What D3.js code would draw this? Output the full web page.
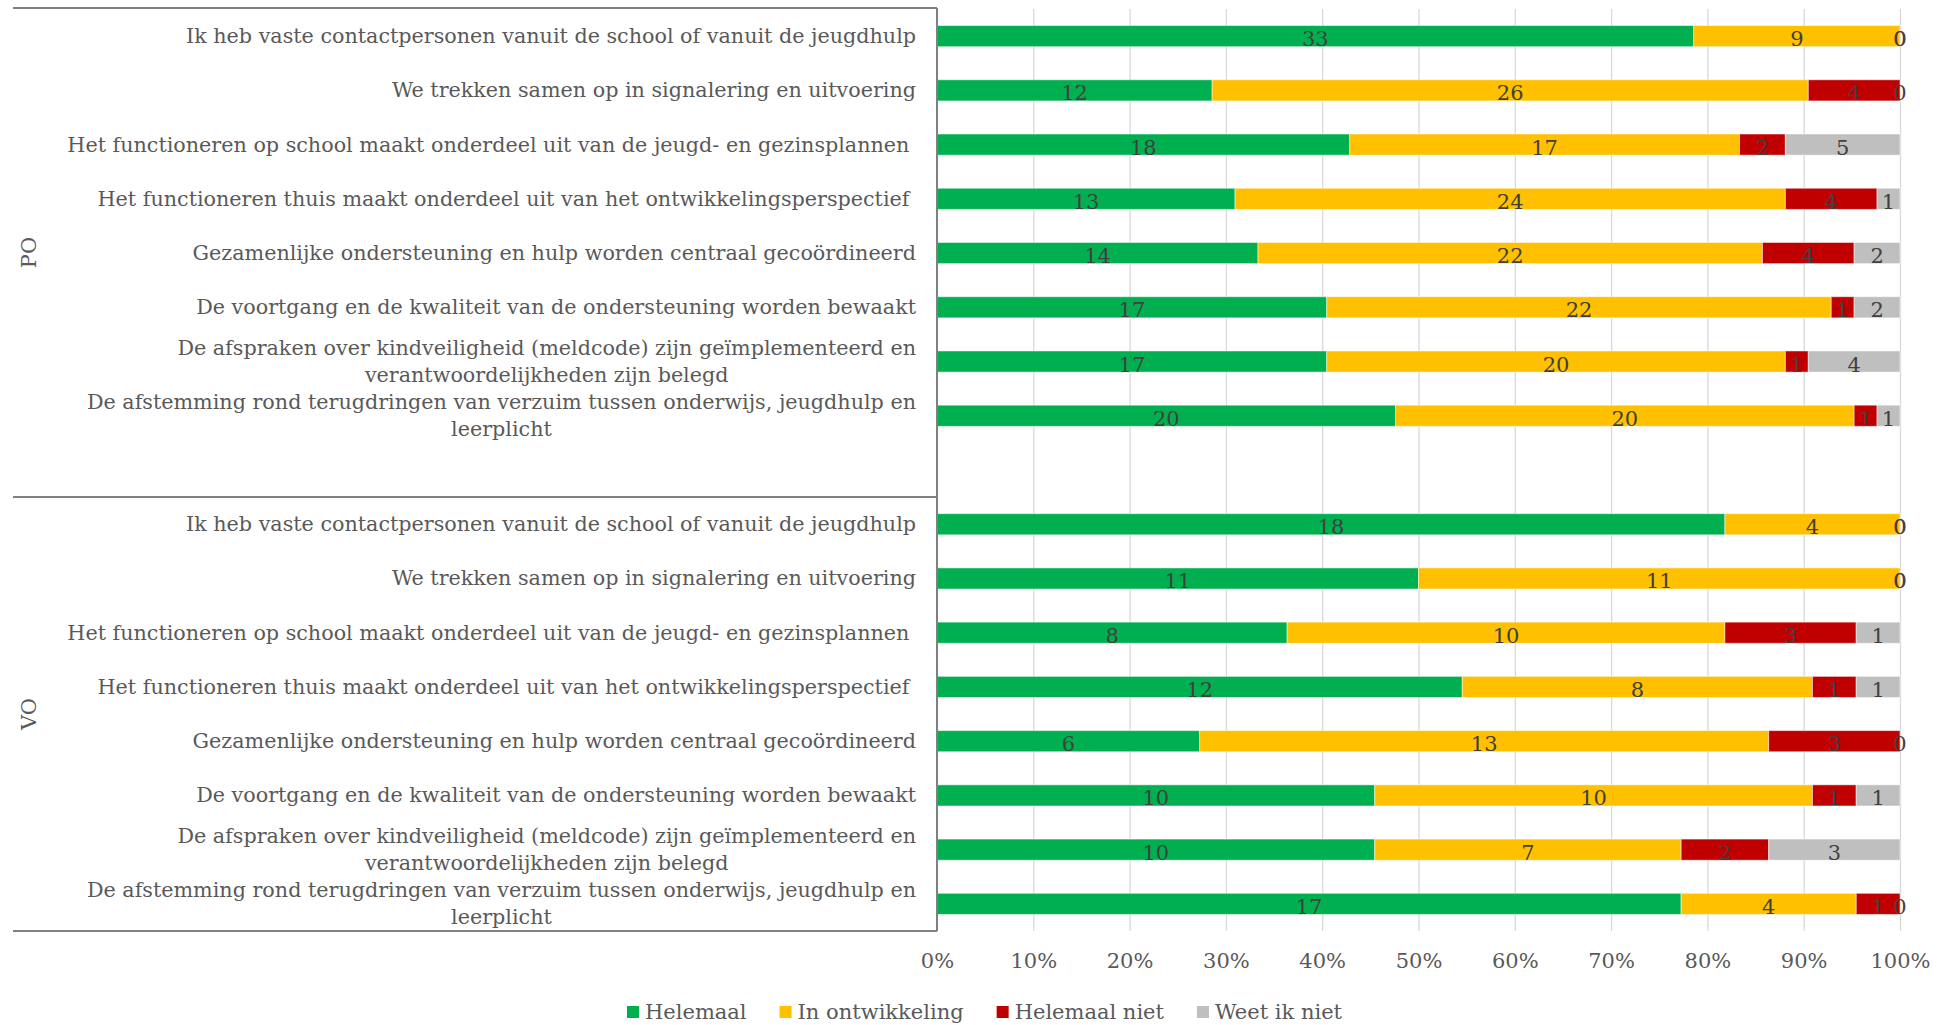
<!DOCTYPE html>
<html><head>
<meta charset="utf-8">
<script src="https://d3js.org/d3.v7.min.js"></script>
<style>
  body { margin: 0; background: #fff; }
  svg text { font-family: Georgia, "DejaVu Serif", serif; fill: #595959; }
  .gridlines line { stroke: #d9d9d9; stroke-width: 1.3; }
  .gridlines .domain { stroke: none; }
  .x.axis .domain { stroke: none; }
  .x.axis text { font-size: 21px; fill: #595959; font-family: Georgia, "DejaVu Serif", serif; }
  .cat { font-size: 20.7px; white-space: pre; }
  .leg { font-size: 21px; }
  .val { font-size: 21px; fill: #404040; }
</style>
</head>
<body>
<svg id="chart" width="1952" height="1025"></svg>
<script>
// categories (same for both groups); "|" marks a line break
const categories = [
  "Ik heb vaste contactpersonen vanuit de school of vanuit de jeugdhulp",
  "We trekken samen op in signalering en uitvoering",
  "Het functioneren op school maakt onderdeel uit van de jeugd- en gezinsplannen ",
  "Het functioneren thuis maakt onderdeel uit van het ontwikkelingsperspectief ",
  "Gezamenlijke ondersteuning en hulp worden centraal gecoördineerd",
  "De voortgang en de kwaliteit van de ondersteuning worden bewaakt",
  "De afspraken over kindveiligheid (meldcode) zijn geïmplementeerd en|verantwoordelijkheden zijn belegd",
  "De afstemming rond terugdringen van verzuim tussen onderwijs, jeugdhulp en|leerplicht"
];
const groups = ["PO", "VO"];
const seriesNames = ["Helemaal", "In ontwikkeling", "Helemaal niet", "Weet ik niet"];
const seriesColors = ["#00b050", "#ffc000", "#c00000", "#bfbfbf"];

// counts per series, PO
const poHelemaal = [33, 12, 18, 13, 14, 17, 17, 20];
const poOntwikkeling = [9, 26, 17, 24, 22, 22, 20, 20];
const poNiet = [0, 4, 2, 4, 4, 1, 1, 1];
const poWeetNiet = [0, 0, 5, 1, 2, 2, 4, 1];
// counts per series, VO
const voHelemaal = [18, 11, 8, 12, 6, 10, 10, 17];
const voOntwikkeling = [4, 11, 10, 8, 13, 10, 7, 4];
const voNiet = [0, 0, 3, 1, 3, 1, 2, 1];
const voWeetNiet = [0, 0, 1, 1, 0, 1, 3, 0];

const tickValues = [0, 0.1, 0.2, 0.3, 0.4, 0.5, 0.6, 0.7, 0.8, 0.9, 1];

// build rows: PO items, an empty slot, VO items
let rows = [];
const poSeries = [poHelemaal, poOntwikkeling, poNiet, poWeetNiet];
const voSeries = [voHelemaal, voOntwikkeling, voNiet, voWeetNiet];
categories.forEach((c, i) => rows.push({key: "PO" + i, label: c, vals: poSeries.map(s => s[i])}));
rows.push({key: "gap", label: "", vals: null});
categories.forEach((c, i) => rows.push({key: "VO" + i, label: c, vals: voSeries.map(s => s[i])}));

let svg = d3.select("#chart");
let margin = {top: 9, left: 937, right: 1900, bottom: 931};

const x = d3.scaleLinear().domain([0, 1]).range([margin.left, margin.right]);
const y = d3.scaleBand().domain(rows.map(d => d.key))
  .range([margin.top, margin.bottom]).paddingInner(0.61).paddingOuter(0.305);

// gridlines
let grid = d3.axisBottom(x).tickValues(tickValues).tickSize(-(margin.bottom - margin.top)).tickFormat("");
svg.append("g").attr("class", "gridlines")
  .attr("transform", "translate(0," + margin.bottom + ")")
  .call(grid);

// bars
let bars = svg.append("g");
rows.forEach(r => {
  if (!r.vals) return;
  let total = d3.sum(r.vals);
  let cum = 0;
  r.vals.forEach((v, j) => {
    let x0 = x(cum / total), x1 = x((cum + v) / total);
    if (v > 0) {
      bars.append("rect")
        .attr("x", x0).attr("y", y(r.key))
        .attr("width", x1 - x0).attr("height", y.bandwidth())
        .attr("fill", seriesColors[j])
        .attr("stroke", "#fff").attr("stroke-opacity", 0.5).attr("stroke-width", 1);
    }
    cum += v;
  });
});
// value labels
rows.forEach(r => {
  if (!r.vals) return;
  let total = d3.sum(r.vals);
  let cum = 0;
  r.vals.forEach((v, j) => {
    let cx = x((cum + v / 2) / total);
    svg.append("text").attr("class", "val")
      .attr("x", cx).attr("y", y(r.key) + y.bandwidth() / 2 + 3)
      .attr("text-anchor", "middle").attr("dominant-baseline", "central")
      .text(v);
    cum += v;
  });
});

// x axis labels
let bottomAxis = d3.axisBottom(x).tickValues(tickValues).tickSize(0).tickPadding(0).tickFormat(d3.format(".0%"));
let ax = svg.append("g").attr("class", "x axis")
  .attr("transform", "translate(0,953)")
  .call(bottomAxis);
ax.selectAll("text").attr("dy", "0.35em").attr("y", 8);

// category labels
const labelRight = 916;
rows.forEach(r => {
  if (!r.label) return;
  let cy = y(r.key) + y.bandwidth() / 2;
  let lines = r.label.split("|");
  if (lines.length === 1) {
    svg.append("text").attr("class", "cat")
      .attr("x", labelRight).attr("y", cy)
      .attr("text-anchor", "end").attr("dominant-baseline", "central")
      .text(lines[0]);
  } else {
    let t = svg.append("text").attr("class", "cat")
      .attr("x", labelRight).attr("y", cy - 13.5)
      .attr("text-anchor", "end").attr("dominant-baseline", "central")
      .text(lines[0]);
    let w = t.node().getComputedTextLength();
    t.attr("text-anchor", "middle").attr("x", labelRight - w / 2);
    svg.append("text").attr("class", "cat")
      .attr("x", labelRight - w / 2).attr("y", cy + 13.5)
      .attr("text-anchor", "middle").attr("dominant-baseline", "central")
      .text(lines[1]);
  }
});

// group separators and vertical axis
const sepYs = [y("PO0") - y.step() * 0.305 - 1, y("VO0") - y.step() * 0.305, margin.bottom];
sepYs.forEach(sy => {
  svg.append("line").attr("x1", 13).attr("x2", margin.left).attr("y1", sy).attr("y2", sy)
    .attr("stroke", "#808080").attr("stroke-width", 2);
});
svg.append("line").attr("x1", margin.left).attr("x2", margin.left)
  .attr("y1", sepYs[0]).attr("y2", margin.bottom)
  .attr("stroke", "#808080").attr("stroke-width", 2);

// group labels
groups.forEach((g, i) => {
  let cy = (sepYs[i] + sepYs[i + 1]) / 2;
  svg.append("text").attr("class", "leg")
    .attr("transform", "translate(29," + cy + ") rotate(-90)")
    .attr("text-anchor", "middle").attr("dominant-baseline", "central")
    .text(g);
});

// legend
let lx = 627;
const ly = 1012;
seriesNames.forEach((s, i) => {
  svg.append("rect").attr("x", lx).attr("y", ly - 6).attr("width", 12).attr("height", 12)
    .attr("fill", seriesColors[i]);
  let t = svg.append("text").attr("class", "leg")
    .attr("x", lx + 18).attr("y", ly).attr("dominant-baseline", "central")
    .text(s);
  lx += 18 + t.node().getComputedTextLength() + 33;
});
</script>
</body>
</html>
